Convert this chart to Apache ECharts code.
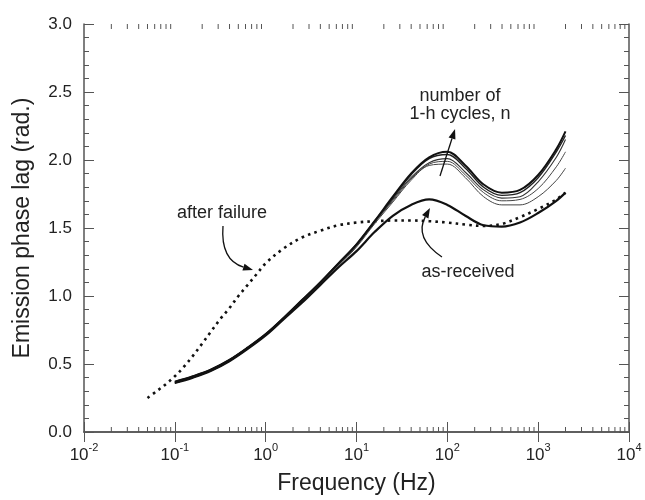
<!DOCTYPE html>
<html><head><meta charset="utf-8">
<script src="https://cdn.jsdelivr.net/npm/echarts@6/dist/echarts.min.js"></script>
<style>html,body{margin:0;padding:0;background:#fff}#c{width:645px;height:500px}</style>
</head><body><div id="c"></div>
<script>
// Frequencies (Hz) for the solid curves
const freqSolid = [0.1, 0.158, 0.251, 0.398, 0.631, 1, 1.58, 2.51, 3.98, 6.31, 10, 15.8, 25.1, 39.8, 63.1, 100, 158, 251, 398, 631, 1000, 1585, 2000];
const asReceived = [0.36, 0.40, 0.45, 0.52, 0.61, 0.71, 0.83, 0.95, 1.08, 1.21, 1.33, 1.47, 1.59, 1.67, 1.71, 1.67, 1.59, 1.52, 1.51, 1.54, 1.61, 1.70, 1.76];
const cycled1 = [0.37, 0.41, 0.46, 0.53, 0.62, 0.72, 0.84, 0.97, 1.10, 1.24, 1.38, 1.55, 1.73, 1.90, 2.02, 2.06, 1.96, 1.82, 1.76, 1.78, 1.89, 2.08, 2.21];
const cycled2 = [0.37, 0.41, 0.46, 0.53, 0.62, 0.72, 0.84, 0.97, 1.10, 1.24, 1.38, 1.55, 1.72, 1.89, 2.01, 2.04, 1.94, 1.80, 1.74, 1.76, 1.87, 2.06, 2.18];
const cycled3 = [0.36, 0.40, 0.46, 0.53, 0.62, 0.72, 0.84, 0.96, 1.10, 1.23, 1.37, 1.54, 1.71, 1.87, 1.98, 2.01, 1.91, 1.78, 1.72, 1.73, 1.84, 2.02, 2.15];
const cycled4 = [0.36, 0.40, 0.45, 0.52, 0.61, 0.72, 0.83, 0.96, 1.09, 1.23, 1.37, 1.54, 1.70, 1.86, 1.97, 1.99, 1.89, 1.76, 1.70, 1.71, 1.79, 1.95, 2.06];
const cycled5 = [0.36, 0.40, 0.45, 0.52, 0.61, 0.71, 0.83, 0.96, 1.09, 1.22, 1.36, 1.53, 1.69, 1.85, 1.96, 1.97, 1.87, 1.73, 1.67, 1.67, 1.73, 1.85, 1.94];
// After failure (dotted)
const freqAfter = [0.05, 0.063, 0.079, 0.1, 0.126, 0.158, 0.2, 0.251, 0.316, 0.398, 0.501, 0.631, 0.794, 1, 1.58, 2.51, 3.98, 6.31, 10, 15.8, 25.1, 39.8, 63.1, 100, 158, 251, 398, 631, 1000, 1585, 2000];
const afterFailure = [0.25, 0.30, 0.35, 0.41, 0.48, 0.56, 0.65, 0.74, 0.83, 0.91, 1.00, 1.08, 1.16, 1.24, 1.35, 1.43, 1.48, 1.52, 1.54, 1.55, 1.555, 1.555, 1.55, 1.54, 1.525, 1.515, 1.53, 1.58, 1.64, 1.71, 1.76];
// Minor ticks of the log axis
const xMinorTicks = [0.02,0.03,0.04,0.05,0.06,0.07,0.08,0.09, 0.2,0.3,0.4,0.5,0.6,0.7,0.8,0.9, 2,3,4,5,6,7,8,9, 20,30,40,50,60,70,80,90, 200,300,400,500,600,700,800,900, 2000,3000,4000,5000,6000,7000,8000,9000];
// Annotations (data coordinates)
const annoTexts = [
  {name: 'number of', coord: [138, 2.47]},
  {name: '1-h cycles, n', coord: [138, 2.338]},
  {name: 'after failure', coord: [0.33, 1.61]},
  {name: 'as-received', coord: [169, 1.176]}
];
const annoArrows = [
  {from: [83, 1.882], to: [121.6, 2.228], curve: 0},
  {from: [87.3, 1.287], to: [64.4, 1.647], curve: 0.45},
  {from: [0.339, 1.515], to: [0.726, 1.191], curve: -0.4}
];

const FONT = '"Liberation Sans", Arial, sans-serif';
const AXC = '#555';
const TXT = '#222';
const pair = (xs, ys) => xs.map((x, i) => [x, ys[i]]);

const chart = echarts.init(document.getElementById('c'));
const lineSeries = (name, ys, w, color) => ({
  name, type: 'line', data: pair(freqSolid, ys), showSymbol: false, symbol: 'none',
  smooth: 0.35, lineStyle: {width: w, color: color}, silent: true, z: 3
});

chart.setOption({
  animation: false,
  textStyle: {fontFamily: FONT},
  grid: {left: 84, right: 16, top: 24, bottom: 68},
  xAxis: [{
    type: 'log', logBase: 10, min: 0.01, max: 10000, splitNumber: 6,
    name: 'Frequency (Hz)', nameLocation: 'middle', nameGap: 40,
    nameTextStyle: {fontSize: 23, color: TXT, fontFamily: FONT},
    axisLine: {show: true, lineStyle: {color: AXC, width: 1.5}},
    axisTick: {show: true, inside: true, length: 10, lineStyle: {color: AXC}},
    minorTick: {show: false},
    splitLine: {show: false},
    axisLabel: {
      margin: 10, color: TXT,
      formatter: v => '{b|10}{s|' + Math.round(Math.log10(v)) + '}',
      rich: {
        b: {fontSize: 17, lineHeight: 22, verticalAlign: 'bottom', color: TXT, fontFamily: FONT},
        s: {fontSize: 11, verticalAlign: 'top', color: TXT, fontFamily: FONT}
      }
    }
  }, {
    type: 'log', logBase: 10, min: 0.01, max: 10000, splitNumber: 6, position: 'top',
    axisLine: {show: true, lineStyle: {color: AXC, width: 1.5}},
    axisTick: {show: true, inside: true, length: 10, lineStyle: {color: AXC}},
    axisLabel: {show: false}, splitLine: {show: false}
  }],
  yAxis: [{
    type: 'value', min: 0, max: 3, interval: 0.5,
    name: 'Emission phase lag (rad.)', nameLocation: 'middle', nameGap: 50,
    nameTextStyle: {fontSize: 23, color: TXT, fontFamily: FONT},
    axisLine: {show: true, lineStyle: {color: AXC, width: 1.5}},
    axisTick: {show: true, inside: true, length: 10, lineStyle: {color: AXC}},
    minorTick: {show: true, splitNumber: 5, length: 5, lineStyle: {color: AXC}},
    splitLine: {show: false},
    axisLabel: {fontSize: 17, color: TXT, margin: 12, formatter: v => v.toFixed(1)}
  }, {
    type: 'value', min: 0, max: 3, interval: 0.5, position: 'right',
    axisLine: {show: true, lineStyle: {color: AXC, width: 1.5}},
    axisTick: {show: true, inside: true, length: 10, lineStyle: {color: AXC}},
    minorTick: {show: true, splitNumber: 5, length: 5, lineStyle: {color: AXC}},
    splitLine: {show: false}, axisLabel: {show: false}
  }],
  series: [
    {
      type: 'custom', name: 'minorTicks', silent: true, clip: false,
      data: xMinorTicks.map(v => [v, 0]), encode: {x: 0, y: 1},
      renderItem: function (params, api) {
        const v = api.value(0);
        const b = api.coord([v, 0]);
        const t = api.coord([v, 3]);
        return {type: 'group', children: [
          {type: 'line', shape: {x1: b[0], y1: b[1], x2: b[0], y2: b[1] - 5}, style: {stroke: AXC, lineWidth: 1}},
          {type: 'line', shape: {x1: t[0], y1: t[1], x2: t[0], y2: t[1] + 5}, style: {stroke: AXC, lineWidth: 1}}
        ]};
      }
    },
    {
      name: 'after failure', type: 'line', data: pair(freqAfter, afterFailure), showSymbol: false, symbol: 'none',
      smooth: 0.35, silent: true, z: 2,
      lineStyle: {width: 2.6, color: '#111', type: [2.6, 4.2], cap: 'butt'}
    },
    lineSeries('n5', cycled5, 1, '#444'),
    lineSeries('n4', cycled4, 1, '#444'),
    lineSeries('n3', cycled3, 1.1, '#333'),
    lineSeries('n2', cycled2, 1.4, '#222'),
    lineSeries('n1', cycled1, 2, '#111'),
    lineSeries('as-received', asReceived, 2.2, '#111'),
    {
      type: 'line', name: 'annotations', data: [], silent: true, z: 5,
      markPoint: {
        symbol: 'circle', symbolSize: 0, silent: true,
        label: {show: true, position: 'inside', formatter: p => p.name, color: TXT, fontSize: 18, fontFamily: FONT},
        data: annoTexts.map(a => ({name: a.name, coord: a.coord}))
      }
    }
  ]
});

// Arrows: positions converted from data coordinates through the chart's axes
const toPx = c => chart.convertToPixel({xAxisIndex: 0, yAxisIndex: 0}, c);
const arrowEls = [];
annoArrows.forEach(a => {
  const p1 = toPx(a.from), p2 = toPx(a.to);
  const cp = [(p1[0] + p2[0]) / 2 - (p1[1] - p2[1]) * a.curve, (p1[1] + p2[1]) / 2 - (p2[0] - p1[0]) * a.curve];
  let dx = p2[0] - cp[0], dy = p2[1] - cp[1];
  const len = Math.hypot(dx, dy) || 1; dx /= len; dy /= len;
  const L = 10, W = 3.6;
  const base = [p2[0] - dx * L, p2[1] - dy * L];
  arrowEls.push({
    type: 'bezierCurve', silent: true, z: 10,
    shape: {x1: p1[0], y1: p1[1], x2: base[0], y2: base[1], cpx1: cp[0], cpy1: cp[1]},
    style: {stroke: '#111', lineWidth: 1.3, fill: null}
  });
  arrowEls.push({
    type: 'polygon', silent: true, z: 10,
    shape: {points: [p2, [base[0] - dy * W, base[1] + dx * W], [base[0] + dy * W, base[1] - dx * W]]},
    style: {fill: '#111'}
  });
});
chart.setOption({graphic: arrowEls});
</script>
</body></html>
